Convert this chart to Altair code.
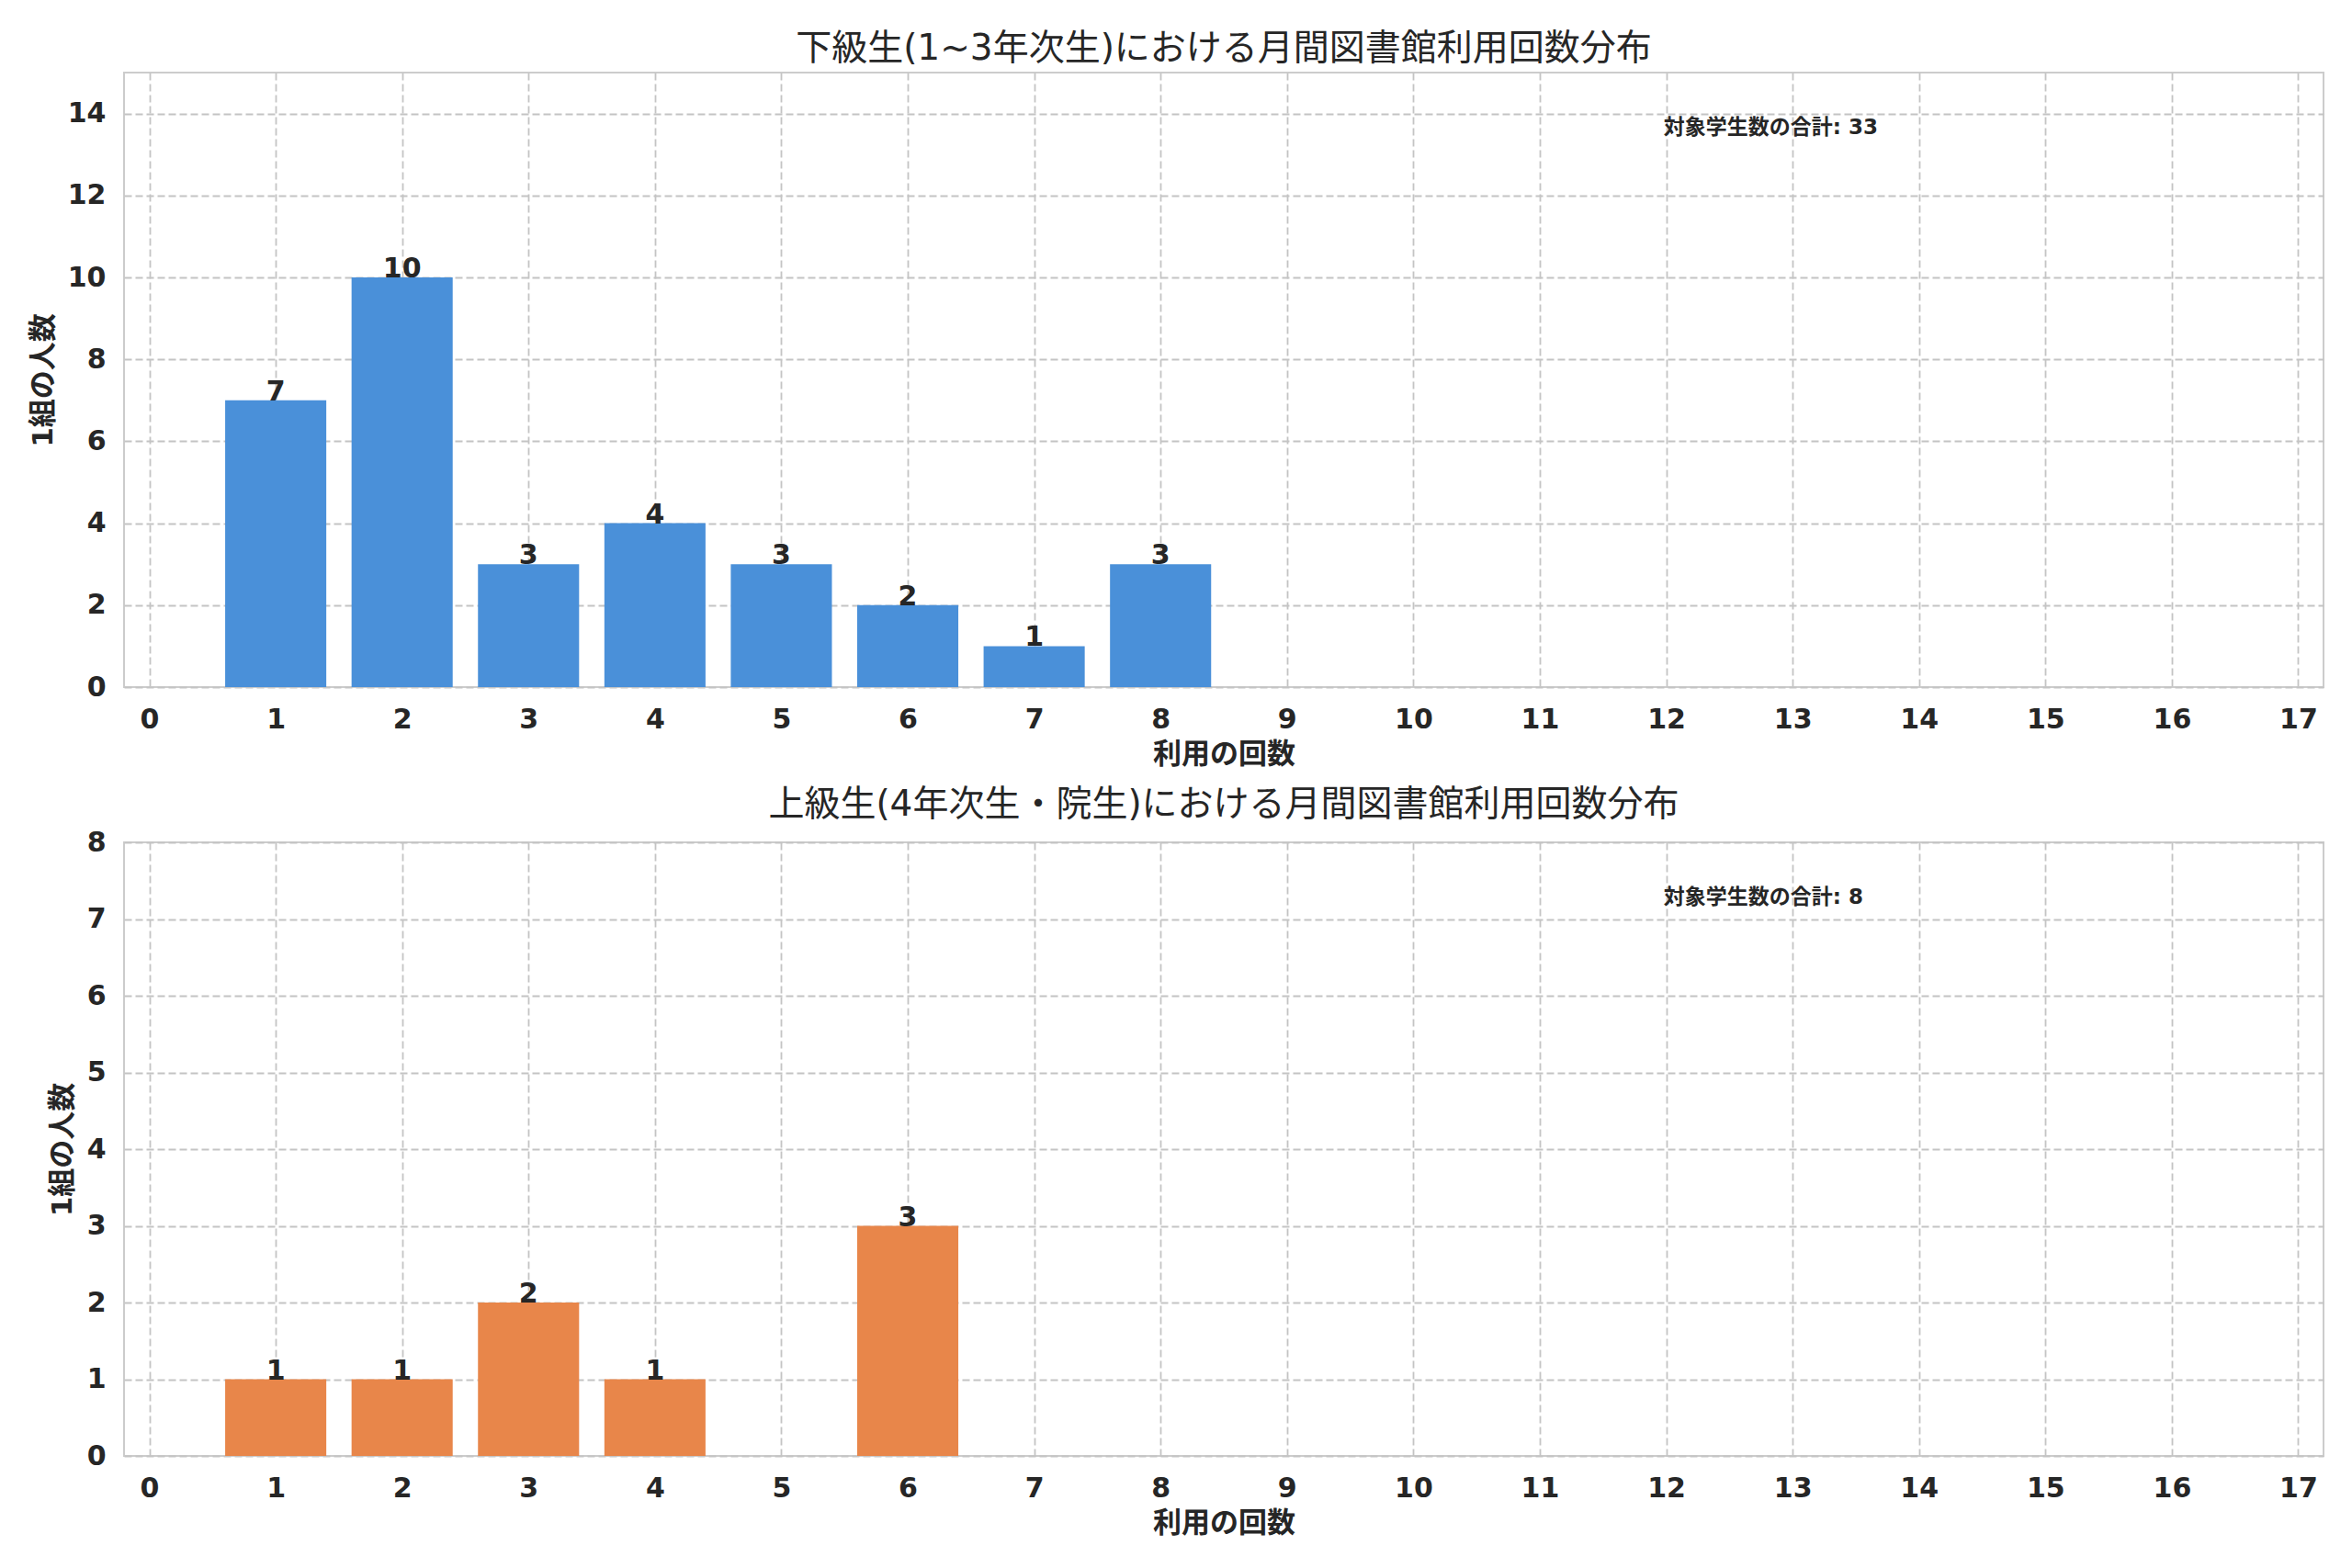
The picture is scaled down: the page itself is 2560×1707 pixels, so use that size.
import altair as alt
import pandas as pd

# ---- data ----
top_values = [1, 2, 3, 4, 5, 6, 7, 8]
top_counts = [7, 10, 3, 4, 3, 2, 1, 3]
bottom_values = [1, 2, 3, 4, 6]
bottom_counts = [1, 1, 2, 1, 3]

x_ticks = list(range(0, 18))
top_y_ticks = [0, 2, 4, 6, 8, 10, 12, 14]
bottom_y_ticks = [0, 1, 2, 3, 4, 5, 6, 7, 8]

top_title = "下級生(1~3年次生)における月間図書館利用回数分布"
bottom_title = "上級生(4年次生・院生)における月間図書館利用回数分布"
x_label = "利用の回数"
y_label = "1組の人数"
note_label = "対象学生数の合計"

BLUE = "#4A90D9"
ORANGE = "#E8864A"
INK = "#262626"
FONT = "DejaVu Sans, Noto Sans CJK JP, sans-serif"

W = 2394
H = 669


def panel(values, counts, color, title, ymax, yticks, h):
    df = pd.DataFrame({"v": values, "n": counts})
    xscale = alt.Scale(domain=[-0.2, 17.2], nice=False, zero=False)
    yscale = alt.Scale(domain=[0, ymax], nice=False)
    xaxis = alt.Axis(values=x_ticks, title=x_label, labelFlush=False, format="d")
    yaxis = alt.Axis(values=yticks, title=y_label, format="d")

    bars = (
        alt.Chart(df)
        .transform_calculate(x0="datum.v - 0.4", x1="datum.v + 0.4")
        .mark_bar(color=color)
        .encode(
            x=alt.X("x0:Q", scale=xscale, axis=xaxis),
            x2="x1:Q",
            y=alt.Y("n:Q", scale=yscale, axis=yaxis),
            y2=alt.datum(0),
        )
    )
    labels = (
        alt.Chart(df)
        .mark_text(baseline="alphabetic", align="center", fontWeight="bold",
                   fontSize=30, color=INK, font=FONT)
        .encode(
            x=alt.X("v:Q", scale=xscale),
            y=alt.Y("n:Q", scale=yscale),
            text="n:Q",
        )
    )
    note_df = pd.DataFrame({"t": [f"{note_label}: {sum(counts)}"]})
    note = (
        alt.Chart(note_df)
        .mark_text(align="left", baseline="middle", fontWeight="bold",
                   fontSize=23, color=INK, font=FONT)
        .encode(x=alt.value(0.7 * W), y=alt.value(60), text="t:N")
    )
    return alt.layer(bars, labels, note).properties(
        width=W,
        height=h,
        title=alt.TitleParams(title, fontSize=39, fontWeight="normal",
                              color=INK, font=FONT, offset=6),
    )


top = panel(top_values, top_counts, BLUE, top_title, 15, top_y_ticks, H)
bottom = panel(bottom_values, bottom_counts, ORANGE, bottom_title, 8, bottom_y_ticks, 668)

chart = (
    alt.vconcat(top, bottom, spacing=19)
    .properties(padding={"left": 22, "top": 25, "right": 10, "bottom": 10},
                background="white")
    .configure_view(stroke="#cccccc", strokeWidth=2)
    .configure_axis(
        grid=True,
        gridColor="#c4c4c4",
        gridDash=[8, 4],
        gridWidth=1.8,
        domain=False,
        ticks=False,
        labelFont=FONT,
        labelFontSize=30,
        labelFontWeight="bold",
        labelColor=INK,
        labelPadding=20,
        titleFont=FONT,
        titleFontSize=31,
        titleFontWeight="bold",
        titleColor=INK,
        titlePadding=10,
    )
    .configure_axisX(labelAngle=0, titlePadding=8)
)

chart.save("out.html", embed_options={"renderer": "svg", "actions": False})
